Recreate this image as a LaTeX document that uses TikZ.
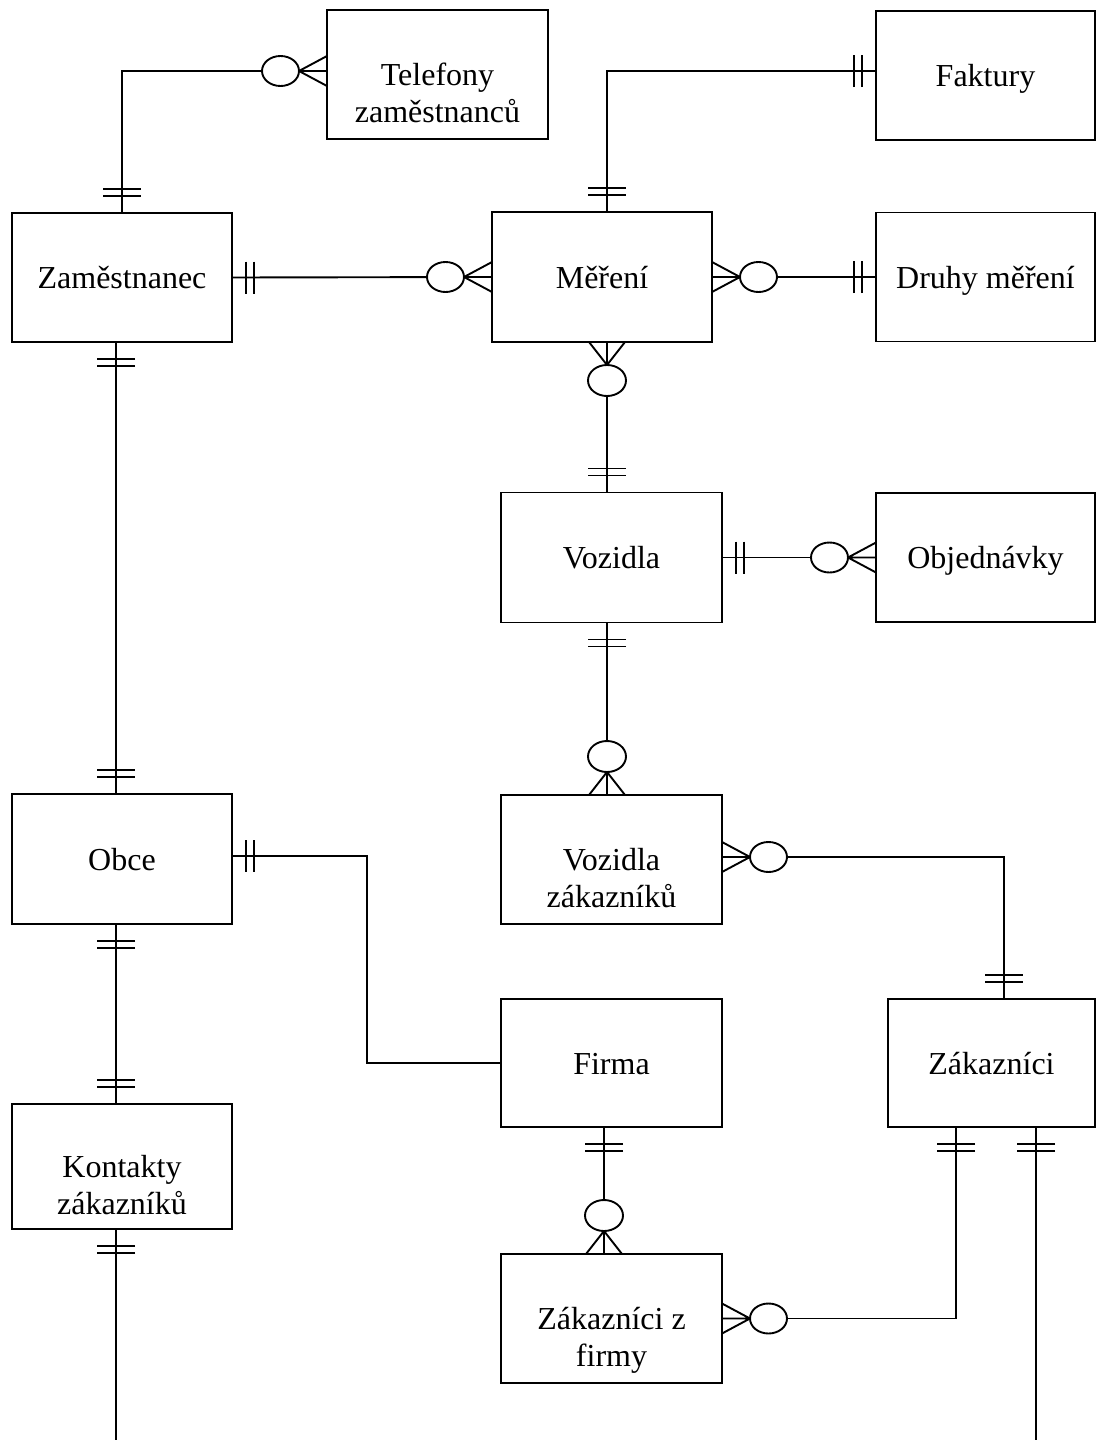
\documentclass[tikz,border=0pt]{standalone}
\usepackage{fontspec}
\setmainfont{Liberation Serif}
\usepackage{tikz}

\tikzset{
	oneh/.pic={\draw (14,-16) -- (14,16) (22,-16) -- (22,16);},
	onev/.pic={\draw (17,-19) -- (17,19) (24,-19) -- (24,19);},
	manyh/.pic={\draw (0,-15) -- (28,0) -- (0,15) (0,0) -- (28,0);
		\draw[fill=white] (46.5,0) ellipse [x radius=18.5pt, y radius=15pt];},
	manyv/.pic={\draw (0,-18) -- (23,0) -- (0,18) (0,0) -- (23,0);
		\draw[fill=white] (38.5,0) ellipse [x radius=15.5pt, y radius=19pt];},
}

\begin{document}
\begin{tikzpicture}[x=1pt,y=-1pt,line width=1.9pt,
	ent/.style={draw,outer sep=0pt,minimum width=220pt,minimum height=129pt,align=center,
		text height=30pt,text depth=8pt,font=\fontsize{32}{37}\selectfont},
	twolines/.style={text height=104pt}]
	\useasboundingbox (0,0) rectangle (1096,1440);
	\node[ent,twolines,minimum width=221pt] (tel) at (437.5,74.5) {Telefony\\zaměstnanců};
	\node[ent,minimum width=219pt] (fak) at (985.5,75.5) {Faktury};
	\node[ent] (zam) at (122,277.5) {Zaměstnanec};
	\node[ent,minimum height=130pt] (mer) at (602,277) {Měření};
	\node[ent,minimum width=219pt] (dru) at (985.5,277) {Druhy měření};
	\node[ent,minimum width=221pt,minimum height=130pt] (voz) at (611.5,557.5) {Vozidla};
	\node[ent,minimum width=219pt] (obj) at (985.5,557.5) {Objednávky};
	\node[ent,minimum height=130pt] (obc) at (122,859) {Obce};
	\node[ent,twolines,minimum width=221pt] (vzk) at (611.5,859.5) {Vozidla\\zákazníků};
	\node[ent,minimum width=221pt,minimum height=128pt] (fir) at (611.5,1063) {Firma};
	\node[ent,minimum width=207pt,minimum height=128pt] (zak) at (991.5,1063) {Zákazníci};
	\node[ent,twolines,minimum height=125pt] (kon) at (122,1166.5) {Kontakty\\zákazníků};
	\node[ent,twolines,minimum width=221pt] (zzf) at (611.5,1318.5) {Zákazníci z\\firmy};
	\coordinate (konend) at (116,1440);
	\coordinate (zakend) at (1036,1440);

	\draw (zam.north) |- ([yshift=3.5pt]tel.west);
	\draw ([xshift=5pt]mer.north) |- ([yshift=4.5pt]fak.west);
	\draw (zam.east) -- (mer.west);
	\draw (mer.east) -- (dru.west);
	\draw ([xshift=5pt]mer.south) -- ([xshift=-4.5pt]voz.north);
	\draw (voz.east) -- (obj.west);
	\draw ([xshift=-4.5pt]voz.south) -- ([xshift=-4.5pt]vzk.north);
	\draw ([yshift=2.5pt]vzk.east) -| ([xshift=12.5pt]zak.north);
	\draw ([xshift=-6pt]zam.south) -- ([xshift=-6pt]obc.north);
	\draw ([yshift=3pt]obc.east) -- ++(135,0) |- (fir.west);
	\draw ([xshift=-6pt]obc.south) -- ([xshift=-6pt]kon.north);
	\draw ([xshift=-7.5pt]fir.south) -- ([xshift=-7.5pt]zzf.north);
	\draw ([xshift=-35.5pt]zak.south) |- (zzf.east);
	\draw ([xshift=44.5pt]zak.south) -- (zakend);
	\draw ([xshift=-6pt]kon.south) -- (konend);

	\pic[rotate=90] at (zam.north) {onev};
	\pic[rotate=180] at ([yshift=3.5pt]tel.west) {manyh};
	\pic[rotate=90] at ([xshift=5pt]mer.north) {onev};
	\pic[rotate=180] at ([yshift=4.5pt]fak.west) {oneh};
	\pic at (zam.east) {oneh};
	\pic[rotate=180] at (mer.west) {manyh};
	\pic at (mer.east) {manyh};
	\pic[rotate=180] at (dru.west) {oneh};
	\pic[rotate=-90] at ([xshift=5pt]mer.south) {manyv};
	\pic[rotate=90] at ([xshift=-4.5pt]voz.north) {onev};
	\pic at (voz.east) {oneh};
	\pic[rotate=180] at (obj.west) {manyh};
	\pic[rotate=-90] at ([xshift=-4.5pt]voz.south) {onev};
	\pic[rotate=90] at ([xshift=-4.5pt]vzk.north) {manyv};
	\pic at ([yshift=2.5pt]vzk.east) {manyh};
	\pic[rotate=90] at ([xshift=12.5pt]zak.north) {onev};
	\pic[rotate=-90] at ([xshift=-6pt]zam.south) {onev};
	\pic[rotate=90] at ([xshift=-6pt]obc.north) {onev};
	\pic at ([yshift=3pt]obc.east) {oneh};
	\pic[rotate=-90] at ([xshift=-6pt]obc.south) {onev};
	\pic[rotate=90] at ([xshift=-6pt]kon.north) {onev};
	\pic[rotate=-90] at ([xshift=-7.5pt]fir.south) {onev};
	\pic[rotate=90] at ([xshift=-7.5pt]zzf.north) {manyv};
	\pic[rotate=-90] at ([xshift=-35.5pt]zak.south) {onev};
	\pic at (zzf.east) {manyh};
	\pic[rotate=-90] at ([xshift=44.5pt]zak.south) {onev};
	\pic[rotate=-90] at ([xshift=-6pt]kon.south) {onev};
\end{tikzpicture}
\end{document}
